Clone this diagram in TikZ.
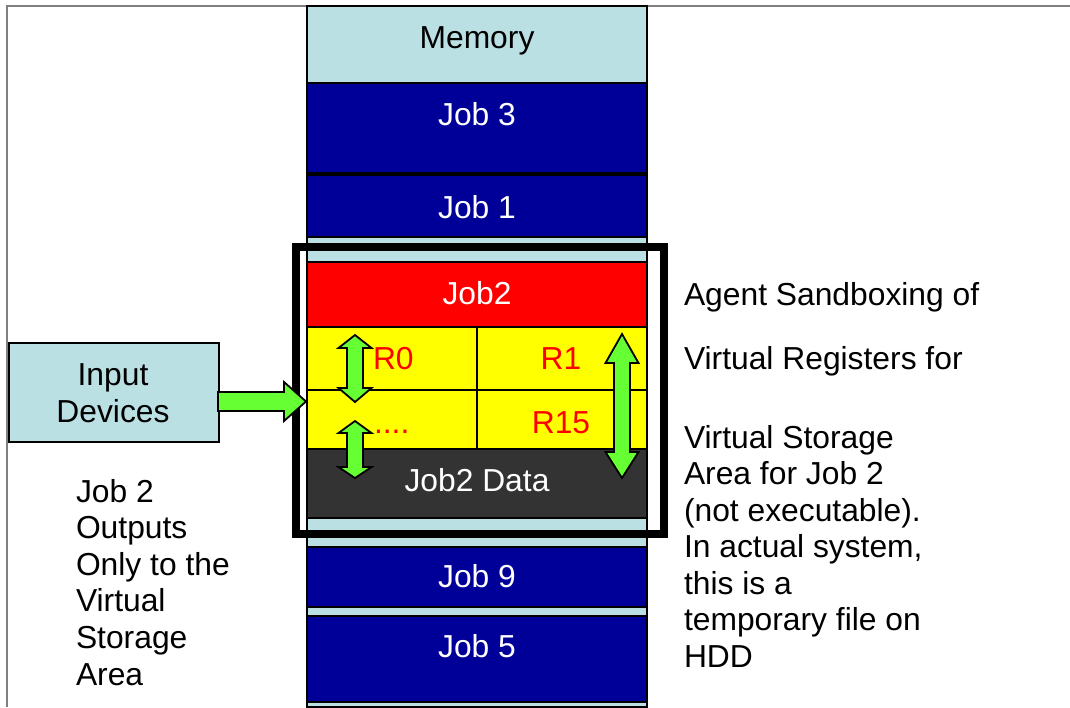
\documentclass[tikz,border=0pt]{standalone}
\usepackage{fontspec}
\setmainfont{Liberation Sans}
\definecolor{memblue}{HTML}{BAE0E3}
\definecolor{jobblue}{HTML}{000099}
\definecolor{jobred}{HTML}{FF0000}
\definecolor{regyellow}{HTML}{FFFF00}
\definecolor{datagray}{HTML}{333333}
\definecolor{arrowgreen}{HTML}{66FF33}
\definecolor{framegray}{HTML}{808080}
\tikzset{
  blk/.style={draw=black, line width=1.5pt, minimum width=340pt, inner sep=0pt, outer sep=0pt, anchor=north west},
  reg/.style={blk, fill=regyellow, minimum width=170pt},
  lbl/.style={font=\fontsize{31.8}{36.5}\selectfont, inner sep=0pt, outer sep=0pt, anchor=base},
  garrow/.style={fill=arrowgreen, draw=black, line width=1.8pt, line join=miter},
}
% vertical double block arrow: x, top tip, top head base, bottom head base, bottom tip
\newcommand{\dblarrow}[5]{%
  \draw[garrow] ({#1-8},#3) -- ({#1-16.5},#3) -- (#1,#2) -- ({#1+16.5},#3) -- ({#1+8},#3)
    -- ({#1+8},#4) -- ({#1+16.5},#4) -- (#1,#5) -- ({#1-16.5},#4) -- ({#1-8},#4) -- cycle;}
\begin{document}
\begin{tikzpicture}[x=1pt,y=-1pt]
\useasboundingbox (0,0) rectangle (1070,707);
\fill[white] (0,0) rectangle (1070,707);
% outer frame
\draw[framegray, line width=2pt] (7,707) -- (7,5.5) -- (1070,5.5);

% sandbox interior
\fill[white] (296,246.5) rectangle (664,534);

% memory column
\draw[fill=memblue, line width=1.5pt] (307,6) rectangle (647,707);
\node[blk, fill=memblue, minimum height=77pt] (mem) at (307,6) {};
\node[blk, fill=jobblue, minimum height=90pt] (job3) at (307,83) {};
\node[blk, fill=jobblue, minimum height=62pt] (job1) at (307,175) {};
\node[blk, fill=jobred, minimum height=65pt] (job2) at (307,262) {};
\node[reg, minimum height=63pt] (r0) at (307,327) {};
\node[reg, minimum height=63pt] (r1) at (477,327) {};
\node[reg, minimum height=59pt] (rdots) at (307,390) {};
\node[reg, minimum height=59pt] (r15) at (477,390) {};
\node[blk, fill=datagray, minimum height=69pt] (data) at (307,449) {};
\node[blk, fill=jobblue, minimum height=60pt] (job9) at (307,547) {};
\node[blk, fill=jobblue, minimum height=86pt] (job5) at (307,616) {};

% block labels
\node[lbl] (memt) at (477,48) {Memory};
\node[lbl, white] (job3t) at (477,125) {Job 3};
\node[lbl, white] (job1t) at (477,218) {Job 1};
\node[lbl, white] (job2t) at (477,304) {Job2};
\node[lbl, jobred, anchor=base west] (r0t) at (373,369) {R0};
\node[lbl, jobred] (r1t) at (561,369) {R1};
\node[lbl, jobred, anchor=base west] (rdotst) at (374,433) {....};
\node[lbl, jobred] (r15t) at (561,433) {R15};
\node[lbl, white] (datat) at (477,491) {Job2 Data};
\node[lbl, white] (job9t) at (477,587) {Job 9};
\node[lbl, white] (job5t) at (477,657) {Job 5};

% sandbox outline
\draw[line width=8pt] (296,246.5) rectangle (664,534);

% input devices
\node[draw=black, fill=memblue, line width=1.5pt, minimum width=210pt, minimum height=99pt,
  inner sep=0pt, anchor=north west] (input) at (8,342) {};
\node[lbl] (inputt1) at (113,385) {Input};
\node[lbl] (inputt2) at (113,422) {Devices};

% green block arrows
\draw[garrow] (218,392) -- (284,392) -- (284,382) -- (306,401.5) -- (284,421) -- (284,411)
  -- (218,411) -- cycle;
\dblarrow{355}{335}{348}{388}{402}
\dblarrow{355}{421}{433}{467}{478}
\dblarrow{622}{334}{363}{452}{478}

% right-hand notes
\node[lbl, anchor=base west] (note1) at (684,305) {Agent Sandboxing of};
\node[lbl, anchor=base west] (note2) at (684,369) {Virtual Registers for};
\foreach \t [count=\i] in {Virtual Storage, Area for Job 2, (not executable)., {In actual system,}, this is a, temporary file on, HDD}
  \node[lbl, anchor=base west] (store\i) at (684,{448+36.5*(\i-1)}) {\t};

% left-hand note
\foreach \t [count=\i] in {Job 2, Outputs, Only to the, Virtual, Storage, Area}
  \node[lbl, anchor=base west] (out\i) at (76,{502+36.6*(\i-1)}) {\t};
\end{tikzpicture}
\end{document}
